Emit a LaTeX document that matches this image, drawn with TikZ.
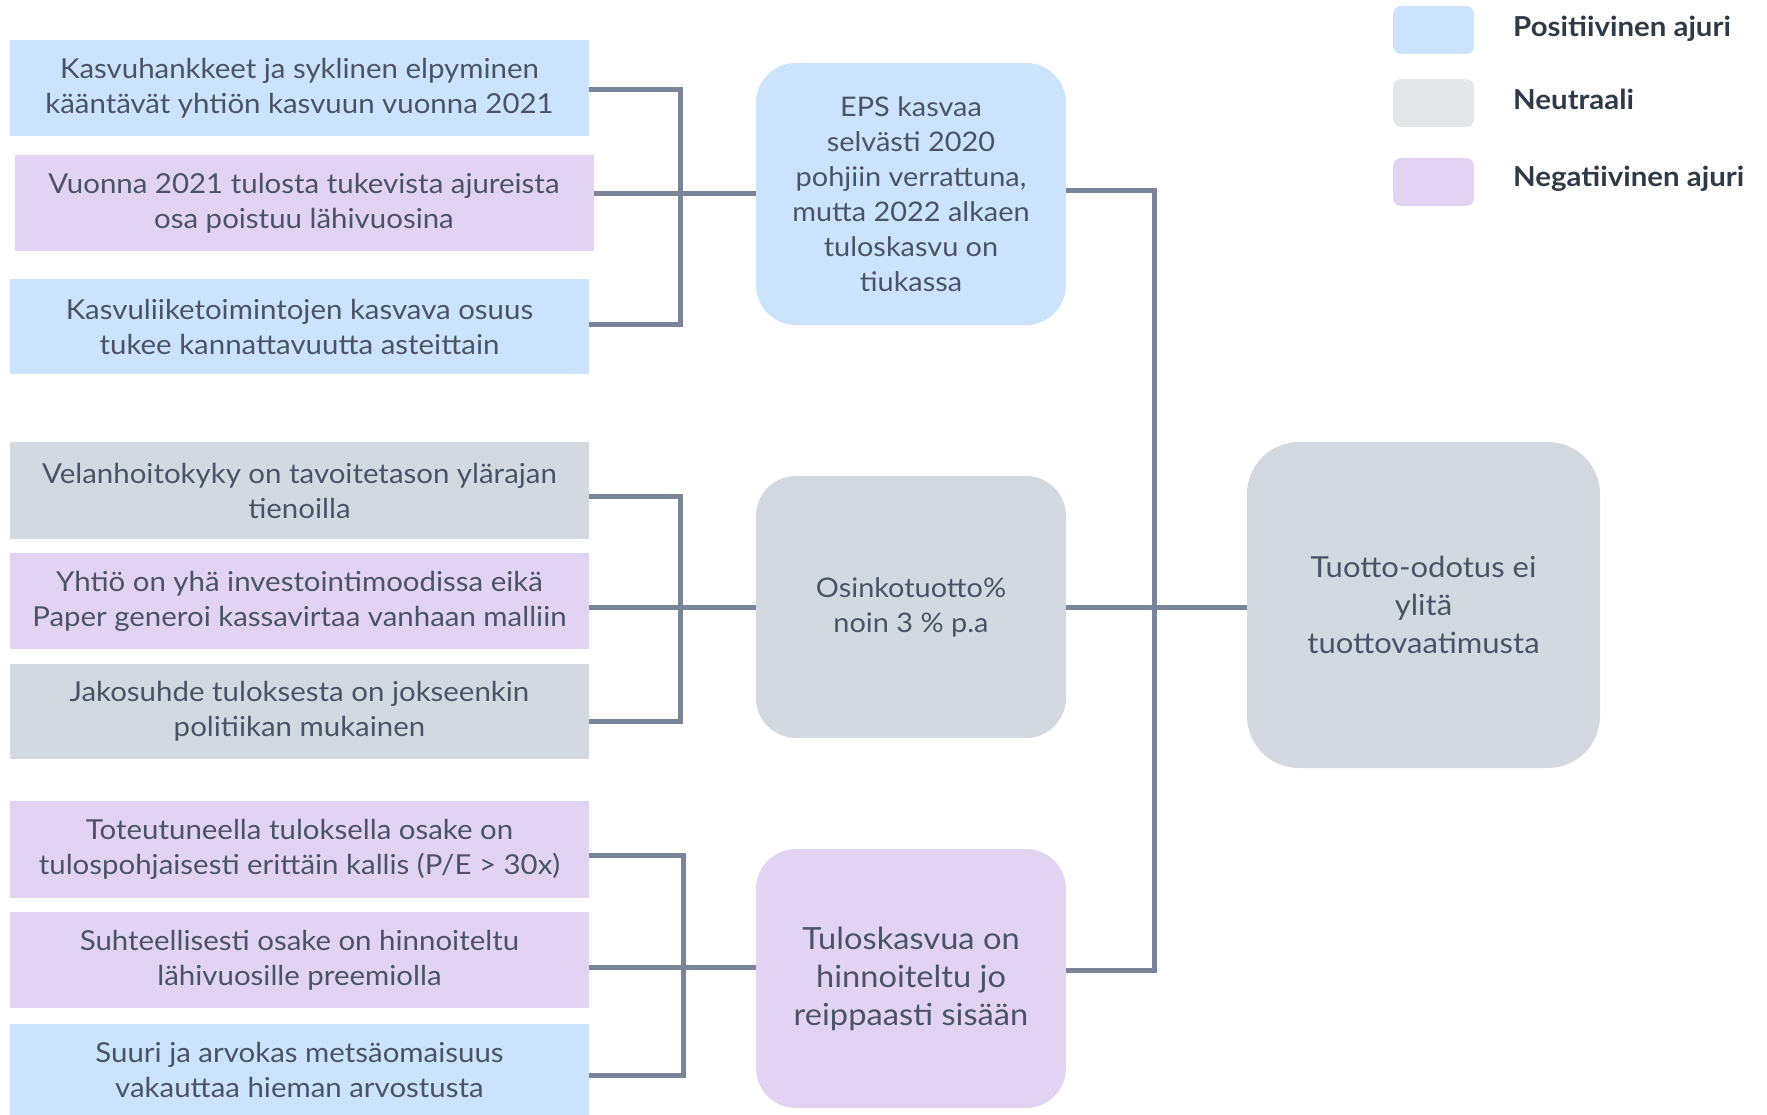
\documentclass[tikz,border=0pt]{standalone}
\usepackage{fontspec}
\setmainfont{Lato}[FakeStretch=1.07]
\definecolor{posc}{HTML}{CCE3FD}
\definecolor{negc}{HTML}{E3D3F3}
\definecolor{neuc}{HTML}{D2D9E1}
\definecolor{legneu}{HTML}{E4E6EA}
\definecolor{lnk}{HTML}{7A8499}
\definecolor{txt}{HTML}{4A5466}
\definecolor{legtxt}{HTML}{2F3A48}
\begin{document}
\begin{tikzpicture}[x=1pt,y=-1pt,
  leaf/.style={rectangle, minimum width=579pt, inner sep=0pt, align=center,
    font=\fontsize{27.5}{35}\selectfont, text=txt},
  midbox/.style={rectangle, rounded corners=40pt, minimum width=310pt, minimum height=262pt,
    inner sep=0pt, align=center, text=txt},
  link/.style={draw=lnk, line width=5pt, line join=miter},
  swatch/.style={rectangle, rounded corners=8pt, minimum width=81pt, minimum height=48pt, inner sep=0pt},
  legtext/.style={anchor=base west, inner sep=0pt, text=legtxt, font=\fontsize{27.5}{30}\selectfont\bfseries}
]
\useasboundingbox (0,0) rectangle (1767,1115);

% left boxes
\node[leaf, fill=posc, minimum height=96pt] (b1) at (299.5,88) {Kasvuhankkeet ja syklinen elpyminen\\kääntävät yhtiön kasvuun vuonna 2021};
\node[leaf, fill=negc, minimum height=96pt] (b2) at (304,203) {Vuonna 2021 tulosta tukevista ajureista\\osa poistuu lähivuosina};
\node[leaf, fill=posc, minimum height=95pt] (b3) at (299.5,326.5) {Kasvuliiketoimintojen kasvava osuus\\tukee kannattavuutta asteittain};
\node[leaf, fill=neuc, minimum height=97pt] (b4) at (299.5,490.5) {Velanhoitokyky on tavoitetason ylärajan\\tienoilla};
\node[leaf, fill=negc, minimum height=96pt] (b5) at (299.5,601) {Yhtiö on yhä investointimoodissa eikä\\Paper generoi kassavirtaa vanhaan malliin};
\node[leaf, fill=neuc, minimum height=95pt] (b6) at (299.5,711.5) {Jakosuhde tuloksesta on jokseenkin\\politiikan mukainen};
\node[leaf, fill=negc, minimum height=97pt] (b7) at (299.5,849.5) {Toteutuneella tuloksella osake on\\tulospohjaisesti erittäin kallis (P/E > 30x)};
\node[leaf, fill=negc, minimum height=96pt] (b8) at (299.5,960) {Suhteellisesti osake on hinnoiteltu\\lähivuosille preemiolla};
\node[leaf, fill=posc, minimum height=91pt] (b9) at (299.5,1069.5) {Suuri ja arvokas metsäomaisuus\\vakauttaa hieman arvostusta};

% middle boxes
\node[midbox, fill=posc, font=\fontsize{27}{35}\selectfont] (eps) at (911,194) {EPS kasvaa\\selvästi 2020\\pohjiin verrattuna,\\mutta 2022 alkaen\\tuloskasvu on\\tiukassa};
\node[midbox, fill=neuc, font=\fontsize{27}{35}\selectfont] (osinko) at (911,607) {Osinkotuotto\%\\noin 3 \% p.a};
\node[midbox, fill=negc, minimum height=259pt, font=\fontsize{30.5}{38}\selectfont] (tulos) at (911,978.5) {Tuloskasvua on\\hinnoiteltu jo\\reippaasti sisään};

% result box
\node[rectangle, rounded corners=52pt, minimum width=353pt, minimum height=326pt, inner sep=0pt,
  align=center, text=txt, fill=neuc, font=\fontsize{29}{38}\selectfont] (tuotto) at (1423.5,605) {Tuotto-odotus ei\\ylitä\\tuottovaatimusta};

% bracket coordinates
\coordinate (j1t) at (680,90);
\coordinate (j1b) at (680,325);
\coordinate (j2t) at (680,496);
\coordinate (j2b) at (680,721);
\coordinate (j3t) at (683,855);
\coordinate (j3m) at (683,967);
\coordinate (j3b) at (683,1075);
\coordinate (rt) at (1154,191);
\coordinate (rb) at (1154,970);

% group 1
\draw[link] (b1.east |- j1t) -- (j1t) -- (j1b) -- (b3.east |- j1b);
\draw[link] (b2.east |- eps.west) -- (eps.west);
% group 2
\draw[link] (b4.east |- j2t) -- (j2t) -- (j2b) -- (b6.east |- j2b);
\draw[link] (b5.east |- osinko.west) -- (osinko.west);
% group 3
\draw[link] (b7.east |- j3t) -- (j3t) -- (j3b) -- (b9.east |- j3b);
\draw[link] (b8.east |- j3m) -- (j3m -| tulos.west);
% right side
\draw[link] (eps.east |- rt) -- (rt) -- (rb) -- (tulos.east |- rb);
\draw[link] (osinko.east) -- (osinko.east -| tuotto.west);

% legend
\node[swatch, fill=posc] (s1) at (1433.5,30) {};
\node[swatch, fill=legneu] (s2) at (1433.5,103) {};
\node[swatch, fill=negc] (s3) at (1433.5,182) {};
\node[legtext] (l1) at (1513,37) {Positiivinen ajuri};
\node[legtext] (l2) at (1513,110) {Neutraali};
\node[legtext] (l3) at (1513,187) {Negatiivinen ajuri};
\end{tikzpicture}
\end{document}
